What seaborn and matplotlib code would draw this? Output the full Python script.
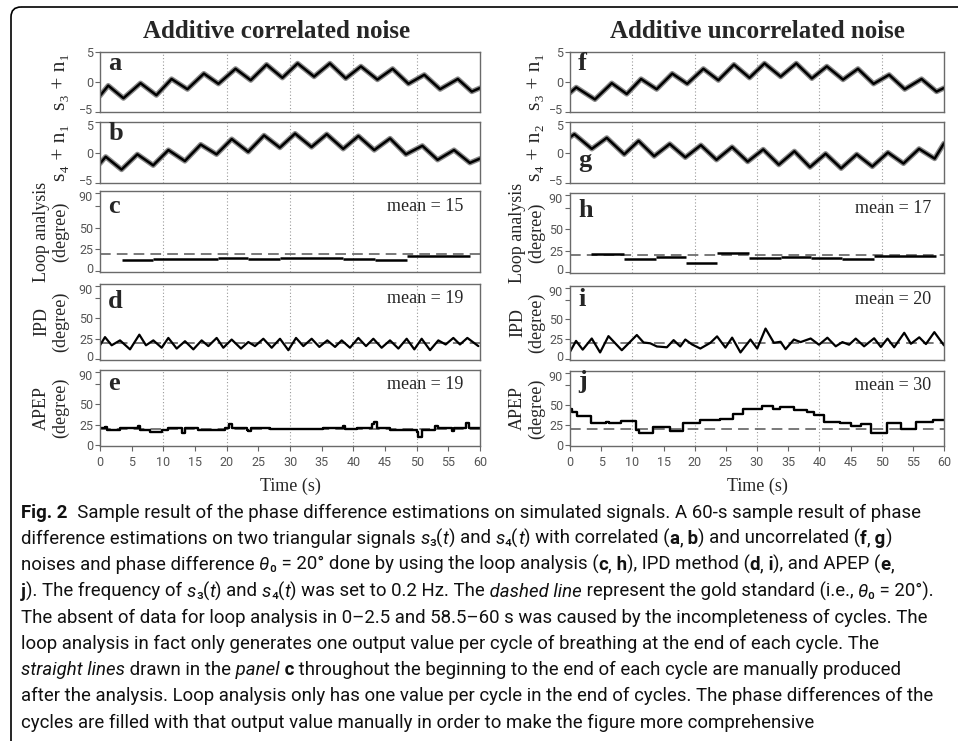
import seaborn as sns
import matplotlib.pyplot as plt
from matplotlib import font_manager
from matplotlib.patches import FancyBboxPatch
from matplotlib.transforms import ScaledTranslation

# ---------------- data ----------------
# triangle signals (vertices only, the noise fuzz is shown by a thick grey line)
a_t = [0, 1.3, 3.7, 6.4, 8.9, 11.3, 13.8, 16.4, 18.7, 21.4, 23.8, 26.3, 28.8, 31.2,
       33.8, 36.3, 38.8, 41.2, 43.8, 46.2, 48.7, 51.2, 53.7, 56.5, 58.7, 60]
a_y = [-2.3, -0.6, -2.7, -0.2, -2.2, 0.5, -1.2, 1.4, -0.3, 2.2, 0.3, 2.9, 0.7, 3.1,
       0.9, 3.1, 0.6, 2.6, 0.4, 2.2, -0.3, 1.2, -1.2, 0.5, -1.6, -1.0]
b_t = [0, 0.9, 3.4, 5.9, 8.4, 10.8, 13.4, 15.9, 18.4, 20.8, 23.4, 25.9, 28.4, 30.8,
       33.4, 35.8, 38.4, 40.8, 43.3, 45.8, 48.3, 50.9, 53.3, 55.9, 58.4, 60]
b_y = [-1.8, -0.7, -2.8, -0.3, -2.1, 0.4, -1.4, 1.3, -0.3, 2.2, 0.1, 2.8, 0.8, 3.1,
       0.9, 3.0, 0.6, 2.7, 0.4, 2.3, -0.3, 1.1, -1.2, 0.4, -1.7, -1.0]
f_t = [0, 1.0, 4.0, 6.7, 9.1, 11.4, 13.9, 16.4, 18.8, 21.4, 23.8, 26.3, 28.8, 31.2,
       33.8, 36.3, 38.8, 41.2, 43.8, 46.2, 48.7, 51.2, 53.7, 56.4, 58.8, 60]
f_y = [-1.8, -0.9, -2.9, -0.2, -2.0, 0.5, -1.2, 1.4, -0.3, 2.2, 0.3, 2.9, 0.7, 3.1,
       0.9, 3.1, 0.6, 2.6, 0.4, 2.2, -0.3, 1.2, -1.2, 0.5, -1.6, -1.0]
g_t = [0, 0.7, 3.5, 5.9, 8.7, 11.0, 13.5, 16.0, 18.5, 21.0, 23.5, 26.0, 28.5, 31.0,
       33.5, 36.0, 38.5, 41.0, 43.5, 46.0, 48.5, 51.0, 53.5, 56.0, 58.5, 60]
g_y = [2.5, 3.0, 0.6, 2.4, -0.3, 1.9, -0.6, 1.4, -0.8, 1.2, -1.2, 0.9, -1.5, 0.5,
       -2.0, 0.2, -2.4, -0.2, -2.6, -0.3, -2.3, 0.0, -1.8, 0.6, -1.0, 1.5]

# loop analysis: one value per cycle (start, end, value)
c_start = [3.4, 8.4, 18.7, 23.4, 28.4, 38.4, 43.4, 48.4]
c_end = [8.4, 18.7, 23.4, 28.4, 38.4, 43.4, 48.4, 58.4]
c_val = [12.7, 13.9, 15.4, 13.5, 15.0, 13.9, 12.7, 17.4]
h_start = [3.3, 8.7, 13.8, 18.6, 23.6, 28.7, 33.8, 38.6, 43.7, 48.8]
h_end = [8.7, 13.8, 18.6, 23.6, 28.7, 33.8, 38.6, 43.7, 48.8, 58.7]
h_val = [21.6, 15.4, 18.1, 11.2, 22.8, 16.2, 17.8, 16.2, 14.7, 18.9]

# IPD
d_t = [0, 0.79, 1.84, 3.16, 4.74, 6.21, 7.26, 8.42, 9.74, 10.79, 12.11, 13.42, 14.74,
       16.05, 17.11, 18.42, 19.47, 20.79, 22.26, 23.42, 24.47, 25.79, 27.11, 28.42,
       29.74, 30.95, 32.11, 33.42, 34.63, 35.89, 37.11, 38.16, 39.47, 40.79, 42.0,
       43.16, 44.47, 45.79, 47.11, 48.42, 49.63, 50.79, 52.11, 53.42, 54.58, 55.79,
       56.84, 58.0, 59.74]
d_y = [17, 27, 17, 23, 12, 30, 17, 23, 14, 26, 13, 22, 12, 23, 16, 26, 14, 24, 13, 21,
       16, 25, 14, 25, 11, 26, 16, 25, 15, 23, 15, 23, 14, 26, 16, 25, 14, 23, 13, 25,
       12, 25, 11, 23, 18, 26, 18, 26, 16]
i_t = [0, 0.97, 2.04, 3.49, 4.83, 6.17, 8.31, 10.72, 11.80, 12.87, 13.94, 15.55, 16.62,
       17.69, 18.50, 19.57, 20.91, 22.52, 23.59, 24.93, 26.01, 27.35, 28.95, 30.03,
       31.37, 32.71, 33.78, 34.58, 35.92, 36.99, 38.61, 39.95, 41.29, 42.63, 43.70,
       44.77, 45.84, 47.18, 48.79, 49.87, 50.94, 52.01, 53.62, 54.69, 56.03, 57.10,
       58.45, 60]
i_y = [9.3, 23, 12, 26, 8.5, 29, 11.3, 30.4, 21, 20, 16, 15, 24, 16, 24.7, 18.6, 13.4,
       20.6, 28.7, 14.6, 27.1, 8.5, 24.7, 13.4, 38.5, 20.6, 21.9, 12.6, 24.7, 21.5, 26,
       18.2, 27, 16.2, 21.5, 18.2, 25.9, 16.2, 26.3, 15.4, 25.9, 15, 33.2, 19.4, 27.5,
       19, 34, 17.4]

# APEP (step changes)
e_t = [0, 0.79, 1.16, 3.16, 5.95, 6.32, 7.89, 9.74, 10.79, 12.89, 13.47, 15.53, 19.74,
       20.42, 20.79, 23.16, 23.42, 23.79, 26.84, 35.26, 38.42, 38.74, 40.5, 42.9, 43.2,
       43.7, 45.8, 50.0, 50.26, 50.8, 52.9, 53.3, 55.5, 55.9, 57.8, 58.2, 60]
e_y = [20.8, 22.5, 18, 21.2, 24, 18.4, 16.4, 18.4, 20.8, 14.8, 21.2, 18, 21, 26, 21.6,
       19, 16.8, 21.2, 19.2, 21.6, 23, 19.6, 21.6, 25.5, 28, 21, 18.4, 16, 10.4, 18.4,
       23, 20.8, 17, 20.8, 27, 21.2, 21.2]
j_t = [0, 0.38, 1.18, 3.33, 5.75, 6.29, 8.17, 10.59, 11.13, 13.28, 15.97, 18.12, 20.81,
       24.03, 26.18, 27.8, 30.75, 32.63, 33.71, 35.86, 38.01, 39.09, 40.7, 43.39, 45.0,
       46.61, 48.23, 50.91, 53.06, 55.48, 58.17, 60]
j_y = [45, 41, 35.7, 27, 29, 27, 30, 19, 15.7, 23, 17, 27, 31, 33, 39, 45, 49, 45, 47,
       44, 41, 37, 29, 27, 24, 26, 15, 27, 20, 29, 31, 31]

GOLD = 20
means = ["15", "19", "19", "17", "20", "30"]
titles = ["Additive correlated noise", "Additive uncorrelated noise"]
letters = [["a", "b", "c", "d", "e"], ["f", "g", "h", "i", "j"]]
ylabels = [["s₃ + n₁", "s₄ + n₁", "Loop analysis\n(degree)", "IPD\n(degree)", "APEP\n(degree)"],
           ["s₃ + n₁", "s₄ + n₂", "Loop analysis\n(degree)", "IPD\n(degree)", "APEP\n(degree)"]]
sig_ticks = [-5, 0, 5]
deg_ticks = [0, 25, 50, 75, 90]
deg_labels = ["0", "25", "50", "", "90"]
time_ticks = list(range(0, 61, 5))
grid_x = [10, 20, 30, 40, 50]

caption = [
    [("Fig. 2", "b"), ("  Sample result of the phase difference estimations on simulated signals. A 60-s sample result of phase", "r")],
    [("difference estimations on two triangular signals ", "r"), ("s", "i"), ("₃(", "r"), ("t", "i"),
     (") and ", "r"), ("s", "i"), ("₄(", "r"), ("t", "i"), (") with correlated (", "r"), ("a", "b"), (",", "r"),
     (" b", "b"), (") and uncorrelated (", "r"), ("f", "b"), (",", "r"), (" g", "b"), (")", "r")],
    [("noises and phase difference ", "r"), ("θ", "i"), ("₀ = 20° done by using the loop analysis (", "r"),
     ("c", "b"), (",", "r"), (" h", "b"), ("), IPD method (", "r"), ("d", "b"), (",", "r"), (" i", "b"),
     ("), and APEP (", "r"), ("e", "b"), (",", "r")],
    [("j", "b"), ("). The frequency of ", "r"), ("s", "i"), ("₃(", "r"), ("t", "i"), (") and ", "r"), ("s", "i"),
     ("₄(", "r"), ("t", "i"), (") was set to 0.2 Hz. The", "r"), (" dashed line", "i"),
     (" represent the gold standard (i.e., ", "r"), ("θ", "i"), ("₀ = 20°).", "r")],
    [("The absent of data for loop analysis in 0–2.5 and 58.5–60 s was caused by the incompleteness of cycles. The", "r")],
    [("loop analysis in fact only generates one output value per cycle of breathing at the end of each cycle. The", "r")],
    [("straight lines", "i"), (" drawn in the", "r"), (" panel", "i"), (" c", "b"),
     (" throughout the beginning to the end of each cycle are manually produced", "r")],
    [("after the analysis. Loop analysis only has one value per cycle in the end of cycles. The phase differences of the", "r")],
    [("cycles are filled with that output value manually in order to make the figure more comprehensive", "r")],
]

# ---------------- styling ----------------
sns.set_theme(style="ticks")
names = {f.name for f in font_manager.fontManager.ttflist}
CAP = "Liberation Sans Narrow" if "Liberation Sans Narrow" in names else "Roboto"
TICKF = [CAP, "DejaVu Sans"]
plt.rcParams["font.family"] = ["Liberation Serif", "DejaVu Serif"]

W, H = 958, 741
fig = plt.figure(figsize=(W / 100, H / 100), dpi=100)

# canvas axes in pixel units for the frame and caption
cax = fig.add_axes([0, 0, 1, 1])
cax.set_xlim(0, W)
cax.set_ylim(H, 0)
cax.axis("off")
cax.add_patch(FancyBboxPatch((11, 7), 1100, 900, boxstyle="round,pad=0,rounding_size=10",
                             fc="none", ec="black", lw=1.2, clip_on=False))

cols = [(100, 380), (570, 374)]
rows = [[(52, 112), (122, 183), (191, 272), (284, 360), (370, 446)],
        [(52, 112), (122, 183), (193, 273), (286, 360), (371, 446)]]
letter_y = [[0.70, 0.70, 0.73, 0.68, 0.74], [0.70, 0.26, 0.70, 0.73, 0.77]]
label_x = [-0.08, -0.066]
title_x = [277, 757]

sig = [[(a_t, a_y), (b_t, b_y)], [(f_t, f_y), (g_t, g_y)]]
loops = [(c_start, c_end, c_val), (h_start, h_end, h_val)]
ipd = [(d_t, d_y), (i_t, i_y)]
apep = [(e_t, e_y), (j_t, j_y)]


def nudge(label, pts):
    label.set_transform(label.get_transform() + ScaledTranslation(0, pts / 72, fig.dpi_scale_trans))


for ci, (left, width) in enumerate(cols):
    fig.text(title_x[ci] / W, 1 - 31 / H, titles[ci], ha="center", va="center",
             fontsize=18, fontweight="bold")
    for ri, (top, bot) in enumerate(rows[ci]):
        ax = fig.add_axes([left / W, 1 - bot / H, width / W, (bot - top) / H])
        for gx in grid_x:
            ax.axvline(gx, color="#9a9a9a", lw=0.8, ls=(0, (1, 2)), zorder=0)
        if ri < 2:
            t, y = sig[ci][ri]
            sns.lineplot(x=t, y=y, ax=ax, color="#8a8a8a", lw=3.8, estimator=None, sort=False)
            sns.lineplot(x=t, y=y, ax=ax, color="black", lw=1.8, estimator=None, sort=False)
            ax.set_ylim(-5, 5)
            ax.set_yticks(sig_ticks)
            ylab = 15.5
        else:
            ax.axhline(GOLD, color="#555555", lw=1.1, ls=(0, (7, 4)), zorder=1)
            if ri == 2:
                s, e, v = loops[ci]
                ax.hlines(v, s, e, color="black", lw=1.8, zorder=2)
            elif ri == 3:
                t, y = ipd[ci]
                sns.lineplot(x=t, y=y, ax=ax, color="black", lw=1.6, estimator=None, sort=False)
            else:
                t, y = apep[ci]
                sns.lineplot(x=t, y=y, ax=ax, color="black", lw=1.7, estimator=None, sort=False,
                             drawstyle="steps-post")
            ax.set_ylim(-1, 92)
            ax.set_yticks(deg_ticks)
            ax.set_yticklabels(deg_labels)
            ax.text(0.955 if ci == 0 else 0.965, 0.75, "mean = " + means[ci * 3 + ri - 2],
                    transform=ax.transAxes, ha="right", va="baseline", fontsize=13)
            ylab = 13
        ax.set_xlim(0, 60)
        ax.set_xticks(time_ticks)
        ax.set_xlabel("")
        ax.set_ylabel(ylabels[ci][ri], fontsize=ylab, linespacing=1.15)
        ax.yaxis.set_label_coords(label_x[ci], 0.5)
        ax.text(0.022, letter_y[ci][ri], letters[ci][ri], transform=ax.transAxes,
                fontsize=19, fontweight="bold", va="baseline")
        for sp in ax.spines.values():
            sp.set_visible(True)
            sp.set_color("#6a6a6a")
            sp.set_linewidth(1.0)
        ax.tick_params(direction="out", length=3.5, width=0.8, color="#666666",
                       labelsize=9, labelcolor="#555555", pad=1.5, labelfontfamily=TICKF)
        if ri == 4:
            ax.tick_params(axis="x", pad=4)
            ax.set_xlabel("Time (s)", fontsize=13, labelpad=6)
        else:
            ax.tick_params(axis="x", length=0, labelbottom=False)
        yt = ax.yaxis.get_major_ticks()
        if ri < 4:
            nudge(yt[0].label1, 2.2)
        if ri > 0:
            nudge(yt[-1].label1, -2.2)

# ---------------- caption ----------------
renderer = fig.canvas.get_renderer()
probe = cax.text(0, 0, "".join(r[0] for r in caption[0]), fontsize=12, family=[CAP, "DejaVu Sans"])
cap_size = 12 * 895 / probe.get_window_extent(renderer).width
probe.remove()

y0, dy = 518, 26.2
for li, runs in enumerate(caption):
    prev = None
    for txt, st in runs:
        kw = dict(fontsize=cap_size, family=[CAP, "DejaVu Sans"], color="#111111")
        if st == "b":
            kw["fontweight"] = "bold"
        if st == "i":
            kw["fontstyle"] = "italic"
        if prev is None:
            prev = cax.text(21, y0 + li * dy, txt, va="baseline", **kw)
        else:
            prev = cax.annotate(txt, xy=(1, 0), xycoords=prev, va="bottom", **kw)

fig.savefig("out.png", dpi=100)
